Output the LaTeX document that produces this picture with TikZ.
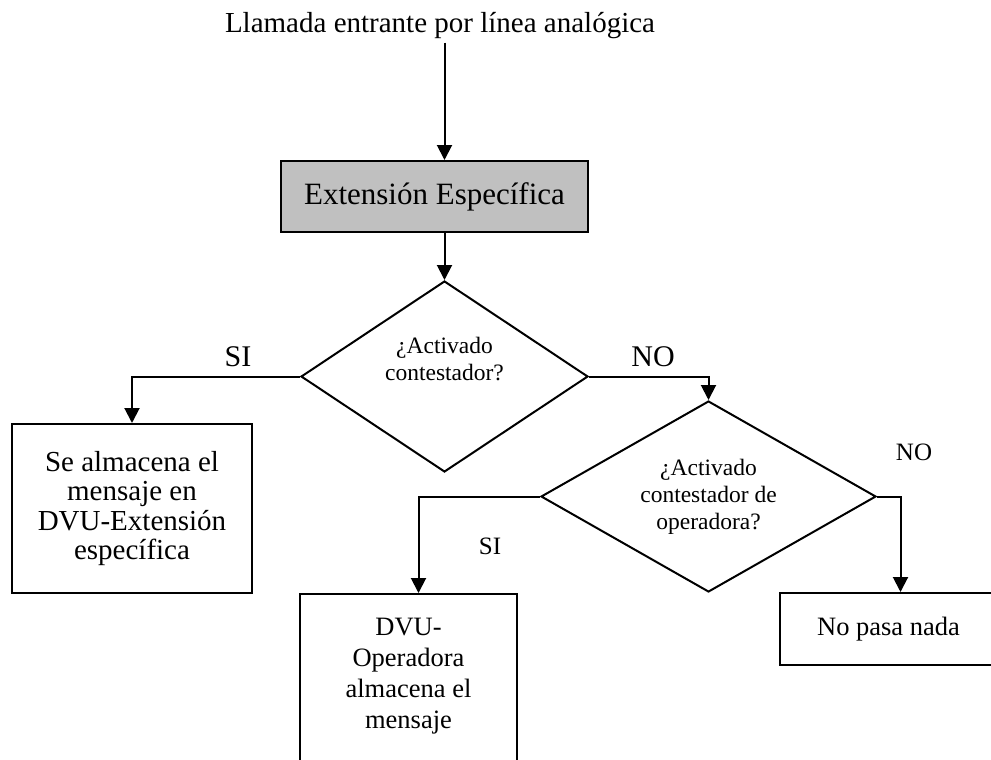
\documentclass[tikz,border=0pt]{standalone}
\usepackage{fontspec}
\setmainfont{Liberation Serif}
\usetikzlibrary{shapes.geometric,arrows.meta,positioning}

\definecolor{grisclaro}{RGB}{192,192,192}

\begin{document}
\begin{tikzpicture}[
                x=1pt, y=-1pt,
                caja/.style={rectangle, draw=black, line width=2pt, align=center, inner sep=0pt},
                decision/.style={diamond, draw=black, line width=2pt, align=center, inner sep=0pt, aspect=1.75,
                    font=\fontsize{23.5}{27}\selectfont},
                flecha/.style={-{Triangle[length=15pt,width=15pt]}, line width=2pt}
            ]
            \useasboundingbox (0,0) rectangle (991,760);

            \node (titulo) at (440,26) {\fontsize{29}{34}\selectfont Llamada entrante por línea analógica};

            \node[caja, fill=grisclaro, minimum width=307pt, minimum height=71pt,
                font=\fontsize{31}{36}\selectfont] (extension) at (434.5,196.5) {Extensión Específica};

            \node[decision, minimum width=287pt, minimum height=191pt] (decision1) at (444.5,376.5) {¿Activado\\contestador?\\[8pt]};
            \node[decision, minimum width=335pt, minimum height=191pt] (decision2) at (708.5,496.5) {¿Activado\\contestador de\\operadora?};

            \node[caja, minimum width=240pt, minimum height=169pt,
                font=\fontsize{29}{29.5}\selectfont] (almacena) at (132,508.5) {Se almacena el\\mensaje en\\DVU-Extensión\\específica};
            \node[caja, anchor=north, minimum width=217pt, minimum height=174pt,
                font=\fontsize{26.5}{31}\selectfont] (dvu) at (408.5,593) {DVU-\\Operadora\\almacena el\\mensaje\\[-15pt]};
            \node[caja, minimum width=217pt, minimum height=72pt,
                font=\fontsize{26.5}{31}\selectfont] (nada) at (888.5,629) {No pasa nada};

            \node[font=\fontsize{30}{34}\selectfont] (si1) at (238,357) {SI};
            \node[font=\fontsize{30}{34}\selectfont] (no1) at (653,357) {NO};
            \node[font=\fontsize{25}{30}\selectfont] (si2) at (490,546) {SI};
            \node[font=\fontsize{25}{30}\selectfont] (no2) at (914,452) {NO};

            \draw[flecha] (titulo.south -| decision1) -- (extension.north -| decision1);
            \draw[flecha] (extension.south -| decision1) -- (decision1.north);

            \draw[flecha] (decision1.west) -| (almacena.north);
            \draw[flecha] (decision1.east) -| (decision2.north);

            \draw[flecha] (decision2.west) -| ([xshift=10pt]dvu.north);
            \draw[flecha] (decision2.east) -| ([xshift=12pt]nada.north);
        \end{tikzpicture}
\end{document}
